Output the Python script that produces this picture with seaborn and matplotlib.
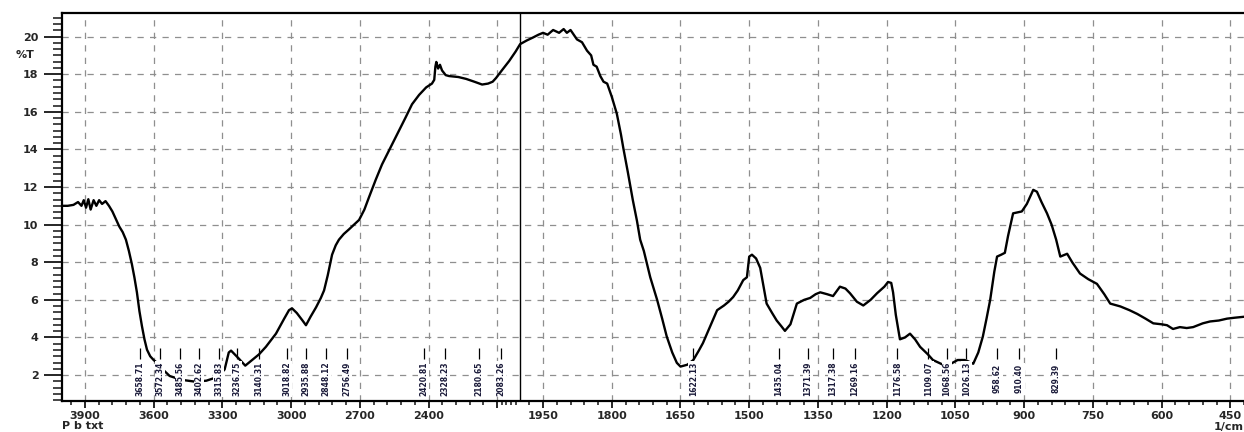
import numpy as np
import matplotlib
matplotlib.use("Agg")
import matplotlib.pyplot as plt
import seaborn as sns

# IR spectrum, wavenumber (1/cm) vs transmittance (%T)
wavenumber = [4000, 3975, 3950, 3930, 3915, 3905, 3895, 3885, 3875, 3862, 3850, 3838, 3825, 3810,
              3795, 3780, 3765, 3750, 3735, 3721, 3708, 3695, 3684, 3673, 3662, 3651, 3640, 3629,
              3615, 3600, 3580, 3560, 3530, 3480, 3420, 3370, 3320, 3290, 3272, 3262, 3230, 3200,
              3170, 3140, 3110, 3066, 3030, 3009, 2996, 2975, 2950, 2935, 2915, 2891, 2870, 2856,
              2840, 2821, 2805, 2791, 2770, 2747, 2725, 2703, 2680, 2660, 2630, 2603, 2570, 2529,
              2500, 2472, 2441, 2410, 2385, 2375, 2370, 2366, 2358, 2350, 2341, 2325, 2310, 2270,
              2236, 2200, 2166, 2140, 2120, 2105, 2080, 2048, 2020, 2000, 1985, 1972, 1960, 1950,
              1940, 1928, 1915, 1905, 1898, 1890, 1880, 1876, 1865, 1854, 1845, 1840, 1833, 1825,
              1818, 1810, 1800, 1789, 1780, 1775, 1765, 1754, 1745, 1738, 1730, 1716, 1701, 1690,
              1680, 1668, 1658, 1650, 1635, 1622, 1610, 1601, 1585, 1570, 1555, 1545, 1535, 1525,
              1513, 1505, 1500, 1494, 1485, 1476, 1468, 1462, 1450, 1440, 1430, 1422, 1410, 1396,
              1380, 1367, 1355, 1345, 1330, 1317, 1302, 1290, 1280, 1265, 1251, 1235, 1221, 1205,
              1197, 1190, 1186, 1180, 1171, 1160, 1149, 1138, 1127, 1110, 1099, 1077, 1060, 1045,
              1030, 1024, 1011, 1000, 990, 982, 974, 965, 959, 950, 942, 935, 924, 915, 905, 894,
              880, 872, 862, 850, 840, 830, 821, 806, 795, 778, 760, 741, 725, 712, 690, 670, 653,
              635, 618, 600, 588, 575, 560, 545, 531, 510, 494, 475, 457, 440, 420]
transmittance = [11.0, 11.0, 11.05, 11.2, 11.0, 11.3, 10.9, 11.35, 10.8, 11.3, 11.0, 11.3, 11.1, 11.25,
                 11.0, 10.7, 10.3, 9.9, 9.6, 9.2, 8.6, 7.9, 7.2, 6.4, 5.4, 4.6, 3.9, 3.35,
                 3.0, 2.8, 2.6, 2.3, 1.95, 1.75, 1.65, 1.7, 1.9, 2.3, 3.2, 3.3, 2.9, 2.5,
                 2.8, 3.1, 3.5, 4.2, 5.0, 5.45, 5.55, 5.3, 4.9, 4.65, 5.1, 5.6, 6.1, 6.5,
                 7.3, 8.4, 8.9, 9.2, 9.5, 9.75, 10.0, 10.25, 10.8, 11.45, 12.4, 13.2, 14.0, 15.0,
                 15.7, 16.4, 16.9, 17.3, 17.5, 17.7, 18.4, 18.65, 18.3, 18.5, 18.2, 17.95, 17.9, 17.85,
                 17.75, 17.6, 17.45, 17.5, 17.6, 17.8, 18.2, 18.7, 19.2, 19.6, 19.8, 19.95, 20.1, 20.2,
                 20.1, 20.35, 20.2, 20.4, 20.2, 20.35, 20.0, 19.85, 19.7, 19.25, 19.0, 18.5, 18.4, 17.9,
                 17.6, 17.5, 16.8, 15.9, 14.8, 14.1, 12.8, 11.3, 10.2, 9.2, 8.6, 7.2, 6.0, 5.0,
                 4.05, 3.2, 2.65, 2.45, 2.55, 2.8, 3.3, 3.7, 4.6, 5.45, 5.7, 5.9, 6.15, 6.5,
                 7.05, 7.2, 8.3, 8.4, 8.2, 7.7, 6.6, 5.8, 5.3, 4.9, 4.6, 4.35, 4.7, 5.8,
                 6.0, 6.1, 6.3, 6.4, 6.3, 6.2, 6.7, 6.6, 6.35, 5.9, 5.7, 6.0, 6.35, 6.7,
                 6.95, 6.9, 6.4, 5.2, 3.9, 4.0, 4.2, 3.9, 3.5, 3.1, 2.8, 2.55, 2.6, 2.8,
                 2.8, 2.75, 2.6, 3.2, 4.05, 5.0, 6.0, 7.5, 8.3, 8.4, 8.5, 9.4, 10.6, 10.65, 10.7, 11.1,
                 11.85, 11.75, 11.2, 10.6, 10.0, 9.2, 8.3, 8.45, 8.0, 7.4, 7.1, 6.85, 6.3, 5.8, 5.65, 5.45, 5.25,
                 5.0, 4.75, 4.7, 4.65, 4.45, 4.55, 4.5, 4.55, 4.75, 4.85, 4.9, 5.0, 5.05, 5.1]

# picked peaks (label positions along the axis)
peaks = [3658.71, 3572.34, 3485.56, 3402.62, 3315.83, 3236.75, 3140.31, 3018.82, 2935.88, 2848.12,
         2756.49, 2420.81, 2328.23, 2180.65, 2083.26,
         1622.13, 1435.04, 1371.39, 1317.38, 1269.16, 1176.58, 1109.07, 1068.56, 1026.13,
         958.62, 910.40, 829.39]

xticks = [3900, 3600, 3300, 3000, 2700, 2400, 2100, 1950, 1800, 1650, 1500, 1350, 1200,
          1050, 900, 750, 600, 450]
xticklabels = ["3900", "3600", "3300", "3000", "2700", "2400", "", "1950", "1800", "1650",
               "1500", "1350", "1200", "1050", "900", "750", "600", "450"]
yticks = [2, 4, 6, 8, 10, 12, 14, 16, 18, 20]


# spectrometer style axis: half scale above 2000 1/cm
def fwd(x):
    x = np.asarray(x, dtype=float)
    return np.where(x > 2000, 2000 + (x - 2000) / 2.0, x)


def inv(x):
    x = np.asarray(x, dtype=float)
    return np.where(x > 2000, 2000 + (x - 2000) * 2.0, x)


sns.set_style("white")
plt.rcParams["font.family"] = ["DejaVu Sans"]
plt.rcParams["font.weight"] = "bold"

fig = plt.figure(figsize=(12.44, 4.32), dpi=100)
ax = fig.add_axes([62 / 1244, 1 - 401 / 432, 1 - 62 / 1244, (401 - 12.7) / 432])

sns.lineplot(x=wavenumber, y=transmittance, sort=False, estimator=None,
             color="black", linewidth=1.7, ax=ax)

ax.set_xscale("function", functions=(fwd, inv))
ax.set_xlim(4000, 420)
ax.set_ylim(0.62, 21.27)

ax.set_xticks(xticks, labels=xticklabels)
minor_x = list(np.arange(3960, 2099, -60)) + [2080, 2060, 2040, 2020] + list(np.arange(1980, 419, -30))
ax.set_xticks(minor_x, minor=True)
ax.set_yticks(yticks, labels=[str(v) for v in yticks])
ax.set_yticks(np.arange(2 - 4 / 3, 21.2, 1 / 3), minor=True)

ax.grid(True, which="major", linestyle=(0, (5, 5)), color="#8f8f8f", linewidth=0.9)
ax.set_axisbelow(True)
ax.axvline(2000, color="black", linewidth=1.0)

ax.tick_params(axis="y", which="major", direction="out", length=13, width=1.4,
               pad=4, labelsize=8, left=True)
ax.tick_params(axis="y", which="minor", direction="out", length=6.5, width=1.2, left=True)
ax.tick_params(axis="x", which="major", direction="out", length=5, width=1.4,
               pad=2, labelsize=8, bottom=True)
ax.tick_params(axis="x", which="minor", direction="out", length=3, width=1.2, bottom=True)

for side in ["left", "bottom", "top"]:
    ax.spines[side].set_linewidth(1.6)
    ax.spines[side].set_color("black")
ax.spines["right"].set_visible(False)

# peak markers and labels
ax.vlines(peaks, 2.85, 3.45, color="black", linewidth=0.9)
for p in peaks:
    ax.text(p, 1.8, f"{p:.2f}", rotation=90, ha="center", va="center", fontsize=5.5,
            color="#1b1b3a", bbox=dict(facecolor="white", edgecolor="none", pad=0.6))

fig.text(35 / 1244, 1 - 55 / 432, "%T", ha="right", va="center", fontsize=8)
fig.text(62 / 1244, 1 - 426 / 432, "P b txt", ha="left", va="center", fontsize=8)
fig.text(1244 / 1244, 1 - 427 / 432, "1/cm", ha="right", va="center", fontsize=8)

ax.set_xlabel("")
ax.set_ylabel("")
fig.savefig("out.png", dpi=100)
